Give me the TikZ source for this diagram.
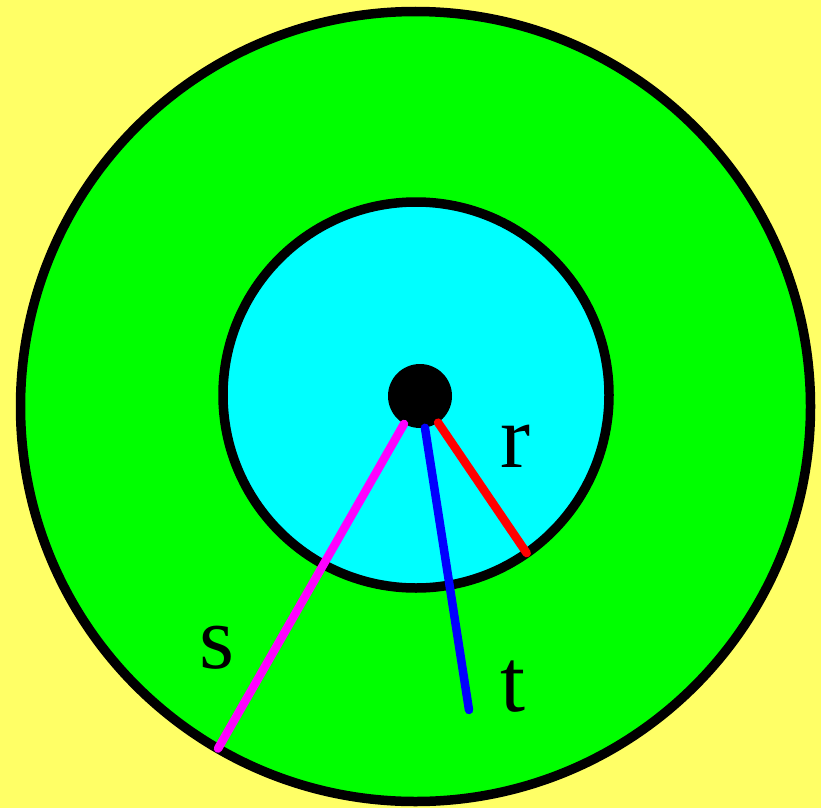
\documentclass[tikz,border=0pt]{standalone}
\usepackage{fontspec}
\setmainfont{Liberation Serif}
\definecolor{fondo}{RGB}{255,255,102}
\definecolor{verde}{RGB}{0,255,0}
\definecolor{celeste}{RGB}{0,255,255}
\definecolor{rosa}{RGB}{255,0,255}
\definecolor{azul}{RGB}{0,0,255}
\definecolor{rojo}{RGB}{255,0,0}
\begin{document}
\begin{tikzpicture}[x=1pt,y=-1pt,
  disco/.style={circle,draw=black,line width=9.5pt,inner sep=0pt,outer sep=0pt},
  radio/.style={line width=8.5pt,line cap=round},
  etiqueta/.style={font=\fontsize{90}{90}\selectfont,anchor=base,inner sep=0pt}]
  % Fondo amarillo
  \useasboundingbox (0,0) rectangle (821,808);
  \fill[fondo] (0,0) rectangle (821,808);

  % Discos (exterior, interior y centro)
  \node[disco,fill=verde,minimum size=790pt] (exterior) at (415.5,406.5) {};
  \node[disco,fill=celeste,minimum size=386pt] (interior) at (416,395) {};
  \node[circle,fill=black,inner sep=0pt,minimum size=64pt] (o) at (420,396) {};

  % Extremo libre del radio t
  \coordinate (tfin) at (469,710);

  % Radios
  \draw[radio,rosa] (o) -- (exterior.240.4);
  \draw[radio,azul] (o) -- (tfin);
  \draw[radio,rojo] (o) -- (interior.305.6);

  % Etiquetas
  \node[etiqueta] (r) at (515,467) {r};
  \node[etiqueta] (s) at (217,668) {s};
  \node[etiqueta] (t) at (513,711) {t};
\end{tikzpicture}
\end{document}
